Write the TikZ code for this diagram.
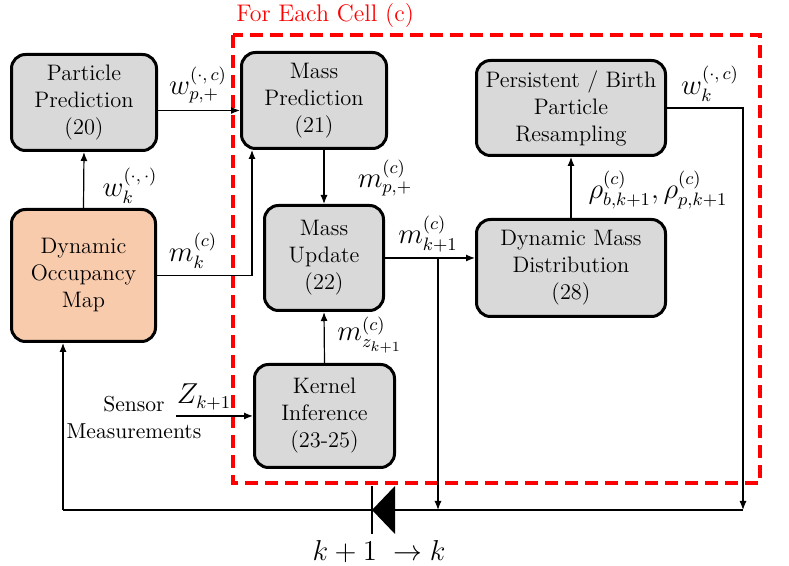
\documentclass[tikz,border=0pt]{standalone}
\usepackage{amsmath}
\usepackage{tikz}
\usetikzlibrary{arrows.meta}
\definecolor{boxgray}{HTML}{D9D9D9}
\definecolor{mappeach}{HTML}{F8CBAD}
\definecolor{cellred}{HTML}{FF0000}

\tikzset{
  blk/.style={draw,line width=1.5pt,rounded corners=7pt,fill=boxgray,align=center,
    font=\fontsize{11.2}{13.5}\selectfont,inner sep=0pt},
  conn/.style={line width=0.6pt,-{Latex[length=4.5pt,width=3.5pt]}},
  wire/.style={line width=0.6pt},
  lbl/.style={font=\fontsize{13.5}{15}\selectfont,inner sep=0pt}
}

\begin{document}
\begin{tikzpicture}[x=0.5pt,y=-0.5pt]
  \useasboundingbox (0,0) rectangle (789,566);
  % cell loop frame
  \draw[cellred,line width=1.6pt,dash pattern=on 6.5pt off 3.5pt] (233,35) rectangle (760,483);
  \node[text=cellred,font=\fontsize{12}{14}\selectfont,anchor=west,inner sep=0pt] (cell) at (236,16) {For Each Cell (c)};

  % blocks
  \node[blk,minimum width=72.5pt,minimum height=48pt] (pp) at (84,102.5) {Particle\\Prediction\\(20)};
  \node[blk,fill=mappeach,minimum width=72pt,minimum height=66pt] (dom) at (83.5,275.5) {Dynamic\\Occupancy\\Map};
  \node[blk,minimum width=72.5pt,minimum height=48pt] (mp) at (314,100.5) {Mass\\Prediction\\(21)};
  \node[blk,minimum width=59.5pt,minimum height=52.5pt] (mu) at (324,258) {Mass\\Update\\(22)};
  \node[blk,minimum width=70pt,minimum height=51.5pt] (ki) at (324.5,416) {Kernel\\Inference\\(23-25)};
  \node[blk,minimum width=94.5pt,minimum height=47.5pt] (prb) at (571,108) {Persistent / Birth\\Particle\\Resampling};
  \node[blk,minimum width=94.5pt,minimum height=48.5pt] (dmd) at (571,268) {Dynamic Mass\\Distribution\\(28)};
  \node[align=center,font=\fontsize{10.8}{13.5}\selectfont,inner sep=0pt] (sens) at (134,418) {Sensor\\Measurements};

  % feedback path and delay
  \coordinate (fbl) at (63,510);
  \coordinate (fbr) at (743,510);
  \coordinate (br) at (438,258);
  \coordinate (zin) at (176,416);
  \coordinate (dly) at (372,510);

  % connectors
  \draw[conn] ([yshift=-4pt]pp.east) -- ([yshift=-4pt]pp.east -| mp.west);
  \draw[conn] (dom.north) -- (pp.south);
  \draw[conn] (dom.east) -| ([xshift=-31pt]mp.south);
  \draw[conn] (mp.south -| mu.north) -- (mu.north);
  \draw[conn] (mu.east) -- (mu.east -| dmd.west);
  \draw[conn] (br) -- (br |- fbl);
  \draw[conn] (ki.north) -- (mu.south);
  \draw[conn] (zin) -- (zin -| ki.west);
  \draw[conn] (dmd.north) -- (prb.south);
  \draw[conn] (prb.east) -| (fbr);
  \draw[wire] (fbr) -- (fbl);
  \draw[conn] (fbl) -- (fbl |- dom.south);
  \draw[line width=1pt] ([yshift=12pt]dly) -- ([yshift=-12pt]dly);
  \fill (dly) -- ++(23,-24) -- ++(0,48) -- cycle;

  % labels
  \node[lbl] (lwp) at (198,85) {$w_{p,+}^{(\cdot,\,c)}$};
  \node[lbl] (lwk) at (130,186) {$w_{k}^{(\cdot,\,\cdot)}$};
  \node[lbl] (lmk) at (193,251) {$m_{k}^{(c)}$};
  \node[lbl] (lmp) at (385,178) {$m_{p,+}^{(c)}$};
  \node[lbl] (lmk1) at (428,234) {$m_{k+1}^{(c)}$};
  \node[lbl,anchor=west] (lmz) at (337,335) {$m_{z_{k+1}}^{(c)}$};
  \node[lbl] (lz) at (204,397) {$Z_{k+1}$};
  \node[lbl] (lrho) at (658,190) {$\rho_{b,k+1}^{(c)},\rho_{p,k+1}^{(c)}$};
  \node[lbl] (lwc) at (710,84) {$w_{k}^{(\cdot,\,c)}$};
  \node[lbl] (ldly) at (379,552) {$k+1\;\rightarrow k$};
\end{tikzpicture}
\end{document}
